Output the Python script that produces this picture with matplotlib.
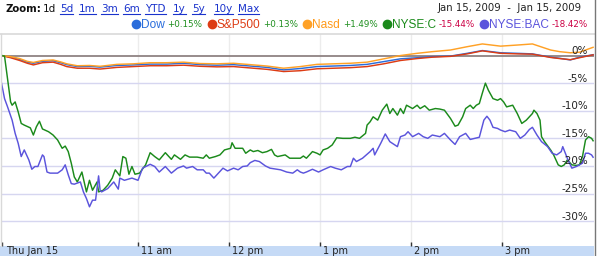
import matplotlib
matplotlib.use("Agg")
import matplotlib.pyplot as plt
from matplotlib.lines import Line2D
from matplotlib.patches import Rectangle
import matplotlib.transforms as mtransforms

# ---------------- data (minutes after 9:30 open, % change) ----------------
idx_t = [0, 6, 12, 17, 21, 27, 34, 39, 43, 50, 58, 65, 76, 87, 98, 109, 120, 131, 142,
         153, 164, 175, 186, 197, 208, 219, 230, 241, 252, 263, 274, 284, 296, 307, 317,
         329, 340, 350, 362, 368, 375, 381, 390]
dow = [0, -0.3, -0.7, -1.2, -1.4, -1.05, -0.95, -1.3, -1.65, -2.0, -1.95, -2.1, -1.8, -1.7,
       -1.55, -1.55, -1.4, -1.65, -1.75, -1.65, -1.9, -2.15, -2.6, -2.35, -2.0, -1.9, -1.8,
       -1.6, -1.1, -0.6, -0.4, -0.2, -0.1, 0.4, 0.9, 0.5, 0.4, 0.3, -0.3, -0.5, -0.8, -0.3, 0.15]
sp500 = [0, -0.4, -0.9, -1.4, -1.7, -1.3, -1.2, -1.6, -2.0, -2.3, -2.3, -2.45, -2.15, -2.0,
         -1.85, -1.85, -1.75, -1.95, -2.05, -2.0, -2.25, -2.5, -2.9, -2.75, -2.4, -2.3, -2.2,
         -2.0, -1.5, -0.9, -0.55, -0.3, -0.15, 0.3, 0.85, 0.4, 0.3, 0.25, -0.35, -0.55, -0.75,
         -0.4, 0.13]
nasd = [0, -0.2, -0.55, -1.05, -1.25, -0.9, -0.8, -1.15, -1.5, -1.85, -1.8, -1.95, -1.6, -1.5,
        -1.3, -1.3, -1.2, -1.45, -1.5, -1.4, -1.65, -1.9, -2.3, -2.0, -1.6, -1.5, -1.4, -1.2,
        -0.6, 0.0, 0.4, 0.7, 1.0, 1.6, 2.1, 1.7, 1.9, 2.1, 1.0, 0.7, 0.5, 0.6, 1.49]

c_t = [0, 2, 6, 7, 9, 11, 13, 15, 19, 21, 23, 25, 27, 31, 34, 37, 40, 42, 44, 46, 48, 50, 53,
       55, 56, 58, 60, 63, 64, 67, 70, 73, 75, 78, 80, 82, 84, 86, 88, 91, 95, 98, 101, 104,
       108, 112, 114, 118, 121, 124, 129, 133, 135, 137, 141, 144, 147, 151, 152, 154, 159,
       161, 164, 166, 169, 172, 175, 178, 180, 182, 187, 190, 197, 199, 201, 205, 208, 210,
       212, 215, 218, 221, 225, 230, 233, 236, 240, 241, 243, 245, 248, 251, 254, 256, 258,
       261, 263, 265, 267, 271, 274, 276, 279, 282, 286, 289, 292, 296, 299, 301, 304, 306,
       309, 311, 313, 315, 317, 319, 321, 324, 327, 329, 331, 333, 337, 340, 343, 346, 350,
       351, 353, 355, 356, 358, 362, 364, 367, 369, 371, 373, 376, 379, 381, 383, 385, 387,
       389, 390]
nyse_c = [0.0, -0.1, -8.4, -9.0, -8.4, -10.2, -12.3, -12.6, -13.1, -14.4, -12.9, -11.9, -13.3,
          -13.8, -14.4, -15.3, -16.8, -16.4, -17.4, -19.5, -22.0, -22.9, -21.1, -23.5, -24.7,
          -22.6, -24.4, -22.9, -24.7, -24.4, -23.5, -22.2, -20.7, -21.8, -18.3, -18.6, -21.5,
          -20.1, -21.5, -21.3, -19.8, -17.6, -18.3, -18.9, -17.6, -18.8, -18.0, -18.8, -18.0,
          -18.4, -18.4, -18.6, -18.0, -18.6, -18.3, -18.0, -17.1, -16.8, -15.8, -16.8, -16.8,
          -17.7, -17.1, -17.4, -17.2, -17.6, -17.4, -17.0, -18.0, -18.3, -18.0, -18.6, -18.6,
          -18.2, -18.6, -17.4, -17.7, -18.0, -17.1, -16.8, -16.2, -14.9, -15.0, -15.0, -14.8,
          -15.0, -14.1, -12.6, -12.0, -11.1, -11.7, -9.9, -8.8, -10.5, -9.6, -10.8, -9.6,
          -10.5, -9.0, -9.6, -9.0, -9.6, -9.1, -9.9, -9.6, -9.7, -9.9, -11.4, -12.8, -12.6,
          -11.1, -9.6, -9.0, -9.6, -9.0, -8.7, -6.8, -5.0, -6.3, -7.8, -8.1, -7.8, -8.4, -9.3,
          -9.0, -10.5, -12.3, -11.7, -10.5, -9.9, -10.5, -11.7, -14.7, -15.6, -17.1, -18.0,
          -19.8, -20.1, -19.8, -18.9, -19.8, -19.9, -19.8, -18.3, -15.3, -14.7, -15.0, -15.44]

bac_t = [0, 2, 4, 7, 9, 11, 13, 15, 18, 20, 22, 24, 27, 28, 30, 32, 37, 40, 42, 44, 46, 48, 52,
         54, 56, 58, 60, 62, 64, 65, 66, 70, 74, 77, 78, 81, 86, 90, 93, 98, 101, 104, 108,
         112, 116, 120, 122, 126, 129, 133, 135, 137, 140, 143, 146, 149, 153, 156, 159, 162,
         164, 167, 170, 174, 177, 184, 188, 192, 195, 197, 199, 201, 205, 209, 212, 217, 220,
         224, 228, 230, 232, 234, 238, 243, 245, 246, 250, 253, 256, 261, 263, 266, 268, 271,
         275, 278, 281, 284, 289, 292, 296, 299, 302, 306, 309, 312, 315, 318, 320, 322, 324,
         327, 329, 332, 335, 339, 342, 345, 348, 350, 353, 356, 360, 363, 366, 369, 370, 373,
         376, 379, 383, 385, 387, 389, 390]
nyse_bac = [-5.0, -7.8, -9.3, -11.7, -14.1, -15.9, -18.3, -17.1, -18.9, -20.6, -20.1, -20.1,
            -18.0, -18.3, -21.1, -21.3, -21.3, -20.7, -19.8, -21.6, -23.2, -23.3, -22.9, -24.7,
            -25.9, -27.4, -26.2, -26.2, -21.8, -24.4, -24.7, -24.1, -22.9, -24.2, -22.2, -22.6,
            -22.2, -22.6, -20.4, -19.7, -20.1, -21.1, -20.1, -21.3, -20.4, -20.0, -20.4, -20.1,
            -20.7, -20.7, -21.3, -21.3, -22.2, -21.3, -20.4, -20.9, -20.4, -20.7, -20.1, -20.0,
            -19.4, -19.0, -19.2, -20.0, -20.4, -20.7, -21.1, -21.3, -20.7, -21.1, -21.3, -21.1,
            -20.6, -21.1, -20.7, -20.1, -20.4, -20.7, -20.1, -20.1, -18.6, -19.2, -18.6, -17.4,
            -16.8, -18.0, -15.9, -14.2, -15.6, -16.5, -14.7, -14.4, -13.8, -14.7, -14.1, -14.7,
            -15.0, -14.4, -14.7, -14.1, -15.3, -16.1, -14.7, -14.1, -15.2, -15.0, -14.8, -11.7,
            -11.0, -11.7, -13.0, -13.2, -13.5, -13.8, -13.5, -13.8, -15.0, -14.4, -13.4, -13.0,
            -14.4, -15.6, -16.5, -17.7, -18.0, -17.4, -16.5, -18.6, -20.4, -20.1, -19.5, -17.7,
            -17.7, -18.0, -18.42]

names = ["Dow", "S&P500", "Nasd", "NYSE:C", "NYSE:BAC"]
changes = ["+0.15%", "+0.13%", "+1.49%", "-15.44%", "-18.42%"]
colors = ["#2a6ddb", "#dd3c14", "#ffa126", "#1b8a1b", "#5b54dc"]

hour_ticks = [90, 150, 210, 270, 330]
hour_labels = ["11 am", "12 pm", "1 pm", "2 pm", "3 pm"]
y_levels = [0, -5, -10, -15, -20, -25, -30]
y_labels = ["0%", "-5%", "-10%", "-15%", "-20%", "-25%", "-30%"]
zoom_links = ["5d", "1m", "3m", "6m", "YTD", "1y", "5y", "10y", "Max"]

# ---------------- figure ----------------
W, H = 600, 256
fig = plt.figure(figsize=(W / 100, H / 100), dpi=100)


def fx(px):
    return px / W


def fy(py):
    return 1 - py / H


ax = fig.add_axes([fx(1), fy(246), fx(593), 212 / H])
ax.set_xlim(-0.33, 390.6)
ax.set_ylim(-34.5, 3.9)
for s in ax.spines.values():
    s.set_visible(False)
ax.set_yticks([])
ax.set_xticks([0] + hour_ticks)
ax.tick_params(axis="x", direction="in", length=3, width=1, color="#333333",
               labelbottom=False, pad=0)

for h in hour_ticks:
    ax.axvline(h, color="#ececec", lw=1, zorder=0)
for lv in y_levels[1:]:
    ax.axhline(lv, color="#d6d6f0", lw=1, zorder=0)
ax.axhline(0, color="#8f8282", lw=1.3, zorder=1)

series = [(idx_t, dow), (idx_t, sp500), (idx_t, nasd), (c_t, nyse_c), (bac_t, nyse_bac)]
order = [4, 3, 1, 0, 2]
for i in order:
    t, v = series[i]
    ax.plot(t, v, color=colors[i], lw=1.05, zorder=3 + i, solid_joinstyle="round")

# y labels inside right
tr = mtransforms.blended_transform_factory(ax.transAxes, ax.transData)
tr = mtransforms.offset_copy(tr, fig=fig, x=0, y=1.5, units="dots")
for lv, lab in zip(y_levels, y_labels):
    ax.text(587 / 593, lv, lab, transform=tr, ha="right", va="baseline",
            fontsize=7.5, color="#222222", zorder=10, family="DejaVu Sans")

# frame lines
fig.add_artist(Line2D([fx(0), fx(595)], [fy(33.5), fy(33.5)], color="#d9d9d9", lw=1.2,
                      transform=fig.transFigure))
fig.add_artist(Line2D([fx(0.5), fx(0.5)], [fy(34), fy(246)], color="#d9d9d9", lw=1.0,
                      transform=fig.transFigure))
fig.add_artist(Line2D([fx(594.5), fx(594.5)], [fy(0), fy(256)], color="#777777", lw=1.0,
                      transform=fig.transFigure))

# bottom bar
fig.add_artist(Rectangle((0, 0), fx(594), fy(246), transform=fig.transFigure,
                         facecolor="#c5daf6", edgecolor="none", zorder=0))
trx = mtransforms.blended_transform_factory(ax.transData, fig.transFigure)
trx = mtransforms.offset_copy(trx, fig=fig, x=3, y=0, units="dots")
fig.text(fx(6), fy(251.5), "Thu Jan 15", ha="left", va="center", fontsize=7,
         color="#222222")
for h, lab in zip(hour_ticks, hour_labels):
    fig.text(h, fy(251.5), lab, transform=trx, ha="left", va="center", fontsize=7,
             color="#222222")

# header: zoom links
fig.text(fx(5), fy(9), "Zoom:", ha="left", va="center", fontsize=7.3,
         fontweight="bold", color="#111111")
fig.text(fx(43), fy(9), "1d", ha="left", va="center", fontsize=7.5, color="#111111")
link_x = [60, 79, 101, 123, 145, 173, 192, 214, 238]
link_texts = []
for lx, lab in zip(link_x, zoom_links):
    link_texts.append(fig.text(fx(lx), fy(9), lab, ha="left", va="center", fontsize=7.5,
                               color="#1a33cc"))
fig.text(fx(582), fy(8), "Jan 15, 2009  -  Jan 15, 2009", ha="right", va="center",
         fontsize=7.3, color="#222222")

# legend row (laid out right-to-left from measured text widths)
name_texts, chg_texts = [], []
for i in range(5):
    name_texts.append(fig.text(0, fy(24.5), names[i], ha="left", va="center",
                               fontsize=8.6, family="Liberation Sans",
                               color=colors[i] if i != 2 else "#ff9a1a"))
    chg_texts.append(fig.text(0, fy(24.5), changes[i], ha="left", va="center",
                              fontsize=6.3,
                              color="#1f8f1f" if changes[i].startswith("+") else "#cc0044"))

fig.canvas.draw()
r = fig.canvas.get_renderer()
xr = 588.0
for i in reversed(range(5)):
    wc = chg_texts[i].get_window_extent(r).width
    wn = name_texts[i].get_window_extent(r).width
    chg_texts[i].set_x(fx(xr - wc))
    xr -= wc + 2.5
    name_texts[i].set_x(fx(xr - wn))
    xr -= wn + 1
    fig.add_artist(Line2D([fx(xr - 4)], [fy(24)], marker="o", markersize=6.0,
                          color=colors[i], transform=fig.transFigure, lw=0))
    xr -= 8 + 5.5

# underline links
inv = fig.transFigure.inverted()
for t in link_texts:
    bb = t.get_window_extent(r)
    (x0, y0), (x1, y1) = inv.transform([(bb.x0, bb.y0), (bb.x1, bb.y1)])
    fig.add_artist(Line2D([x0, x1], [fy(13.5), fy(13.5)], color="#1a33cc", lw=0.8,
                          transform=fig.transFigure))

fig.savefig("out.png", dpi=100)
